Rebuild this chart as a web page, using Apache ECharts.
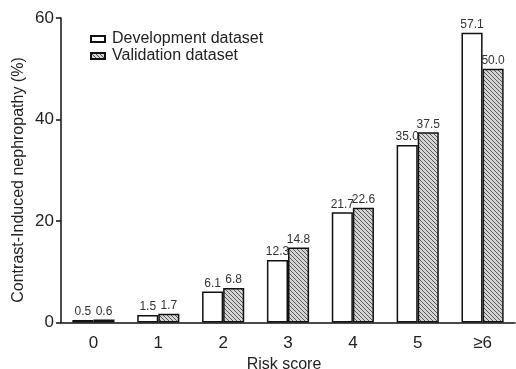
<!DOCTYPE html>
<html>
<head>
<meta charset="utf-8">
<script src="https://cdn.jsdelivr.net/npm/echarts@6/dist/echarts.min.js"></script>
<style>
html,body{margin:0;padding:0;background:#fff;}
#chart{width:516px;height:369px;}
</style>
</head>
<body>
<div id="chart"></div>
<script>
var categories = ['0', '1', '2', '3', '4', '5', '≥6'];
var developmentValues = [0.5, 1.5, 6.1, 12.3, 21.7, 35.0, 57.1];
var validationValues = [0.6, 1.7, 6.8, 14.8, 22.6, 37.5, 50.0];
var yTicks = [0, 20, 40, 60];
var seriesNames = ['Development dataset', 'Validation dataset'];

function makeHatch() {
  var c = document.createElement('canvas');
  c.width = 4; c.height = 4;
  var ctx = c.getContext('2d');
  ctx.fillStyle = '#d4d4d4';
  ctx.fillRect(0, 0, 4, 4);
  ctx.strokeStyle = '#5a5a5a';
  ctx.lineWidth = 1;
  ctx.beginPath();
  ctx.moveTo(-1, -1); ctx.lineTo(5, 5);
  ctx.moveTo(-1, 3); ctx.lineTo(1, 5);
  ctx.moveTo(3, -1); ctx.lineTo(5, 1);
  ctx.stroke();
  return c;
}
var hatch = makeHatch();
var FONT = 'Liberation Sans, Arial, Helvetica, sans-serif';

var chart = echarts.init(document.getElementById('chart'), null, {renderer: 'canvas'});
var labelCfg = {
  show: true, position: 'top', distance: 2,
  color: '#333', fontSize: 12, fontFamily: FONT,
  formatter: function (p) { return p.value.toFixed(1); }
};
chart.setOption({
  animation: false,
  backgroundColor: '#fff',
  textStyle: {fontFamily: FONT},
  grid: {left: 61, right: 1, top: 18, bottom: 46.5, containLabel: false},
  legend: {
    orient: 'vertical', left: 90, top: 31, itemGap: 1, padding: 0,
    itemWidth: 14, itemHeight: 6, icon: 'rect',
    textStyle: {fontSize: 16, color: '#222', fontFamily: FONT, padding: [0, 0, 0, 2]},
    data: seriesNames
  },
  xAxis: {
    type: 'category', data: categories,
    axisLine: {lineStyle: {color: '#111', width: 1.5}},
    axisTick: {alignWithLabel: true, length: 5, lineStyle: {color: '#111', width: 1.5}},
    axisLabel: {fontSize: 17, color: '#222', margin: 12, fontFamily: FONT},
    splitLine: {show: false}
  },
  yAxis: {
    type: 'value', min: 0, max: 60, interval: 20,
    axisLine: {show: true, lineStyle: {color: '#111', width: 1.5}},
    axisTick: {show: true, length: 5, lineStyle: {color: '#111', width: 1.5}},
    axisLabel: {fontSize: 17, color: '#222', margin: 7, fontFamily: FONT,
      formatter: function (v) { return yTicks.indexOf(v) >= 0 ? String(v) : ''; }},
    splitLine: {show: false}
  },
  graphic: [
    {type: 'text', x: 19, y: 180, rotation: Math.PI / 2,
      style: {text: 'Contrast-Induced nephropathy (%)', fontSize: 16, fill: '#222',
        fontFamily: FONT, align: 'center', verticalAlign: 'middle'}},
    {type: 'text', x: 284, y: 365,
      style: {text: 'Risk score', fontSize: 16, fill: '#222',
        fontFamily: FONT, align: 'center', verticalAlign: 'middle'}}
  ],
  series: [
    {
      name: seriesNames[0], type: 'bar', data: developmentValues,
      barGap: '0%', barCategoryGap: '35%',
      itemStyle: {color: '#fff', borderColor: '#111', borderWidth: 1.5},
      label: labelCfg
    },
    {
      name: seriesNames[1], type: 'bar', data: validationValues,
      barGap: '0%', barCategoryGap: '35%',
      itemStyle: {color: {image: hatch, repeat: 'repeat'}, borderColor: '#111', borderWidth: 1.5},
      label: labelCfg
    }
  ]
});
</script>
</body>
</html>
